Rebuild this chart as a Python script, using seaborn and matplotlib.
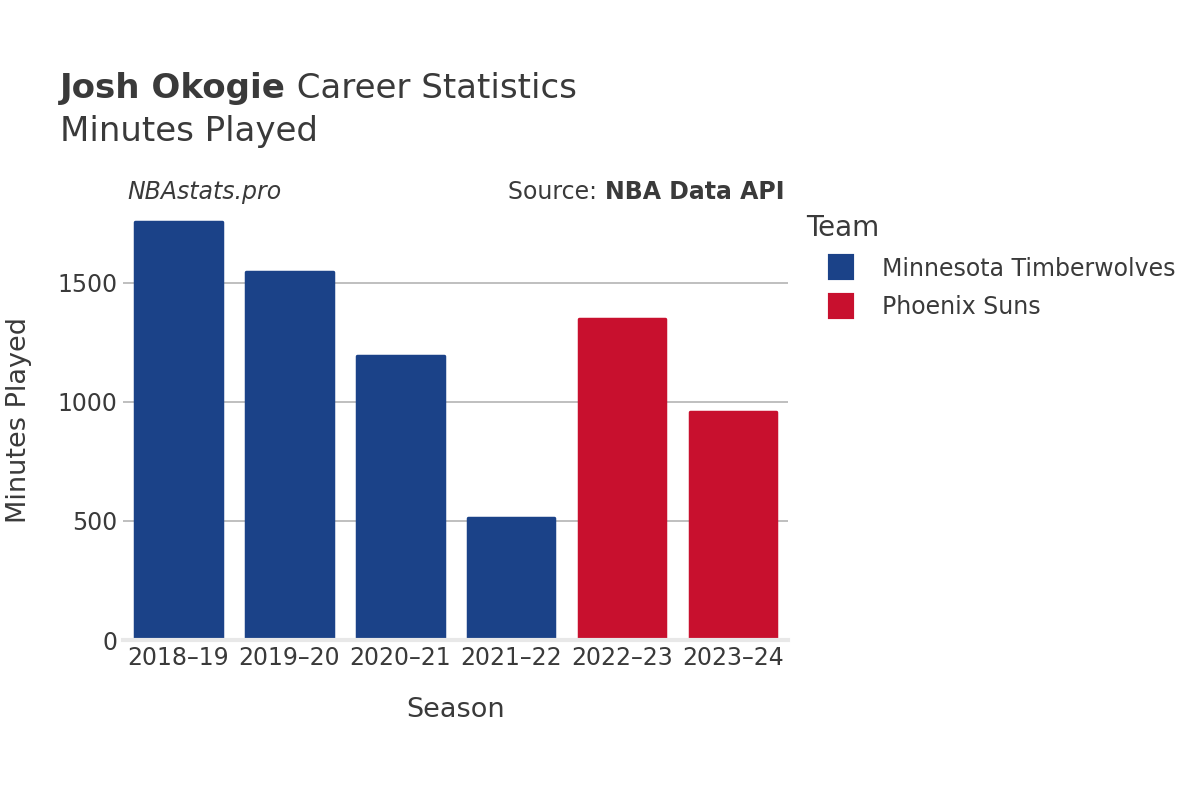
import pandas as pd
import seaborn as sns
import matplotlib.pyplot as plt
from matplotlib.lines import Line2D
from matplotlib.transforms import offset_copy

seasons = ['2018–19', '2019–20', '2020–21', '2021–22', '2022–23', '2023–24']
minutes = [1753, 1543, 1193, 510, 1346, 958]
teams = ['Minnesota Timberwolves', 'Minnesota Timberwolves', 'Minnesota Timberwolves',
         'Minnesota Timberwolves', 'Phoenix Suns', 'Phoenix Suns']
team_colors = {'Minnesota Timberwolves': '#1b4288', 'Phoenix Suns': '#c8102e'}

df = pd.DataFrame({'Season': seasons, 'Minutes': minutes, 'Team': teams})

sns.set_style('white')
plt.rcParams['font.family'] = ['DejaVu Sans']
TXT = '#3a3a3a'

fig = plt.figure(figsize=(12, 8), dpi=100)
ax = fig.add_axes([0.1025, 0.2, 0.5545, 0.551])

sns.barplot(data=df, x='Season', y='Minutes', hue='Team', dodge=False,
            palette=team_colors, saturation=1, width=0.78, ax=ax, legend=False)
for p in ax.patches:
    p.set_edgecolor(p.get_facecolor())
    p.set_linewidth(2.5)
    p.set_joinstyle('round')

ax.set_xlim(-0.5, 5.5)
ax.set_ylim(0, 1850)
ax.set_yticks([0, 500, 1000, 1500])
ax.yaxis.grid(True, color='#b4b4b4', linewidth=1.2)
ax.set_axisbelow(True)
for s in ['top', 'right', 'left']:
    ax.spines[s].set_visible(False)
ax.spines['bottom'].set_color('#e8e8e8')
ax.spines['bottom'].set_linewidth(3)
ax.tick_params(axis='both', labelsize=17, colors=TXT, length=0, pad=4)
ax.tick_params(axis='y', pad=4)
ax.set_xlabel('Season', fontsize=19.5, color=TXT, labelpad=20)
ax.set_ylabel('Minutes Played', fontsize=19.5, color=TXT, va='center')
ax.yaxis.set_label_coords(-0.156, 0.5)

renderer = fig.canvas.get_renderer()

# title line with bold player name
t1 = fig.text(0.05, 0.889, 'Josh Okogie', fontsize=24.5, fontweight='bold', color=TXT, va='center')
w = t1.get_window_extent(renderer).width
fig.text(0.05, 0.889, ' Career Statistics', fontsize=24.5, color=TXT, va='center',
         transform=offset_copy(fig.transFigure, fig=fig, x=w, y=0, units='dots'))
fig.text(0.05, 0.835, 'Minutes Played', fontsize=24.5, color=TXT, va='center')

fig.text(0.1065, 0.76, 'NBAstats.pro', fontsize=17, style='italic', color=TXT, va='center')
t2 = fig.text(0.6535, 0.76, 'NBA Data API', fontsize=17, fontweight='bold', color=TXT,
              va='center', ha='right')
w2 = t2.get_window_extent(renderer).width
fig.text(0.6535, 0.76, 'Source: ', fontsize=17, color=TXT, va='center', ha='right',
         transform=offset_copy(fig.transFigure, fig=fig, x=-w2, y=0, units='dots'))

handles = [Line2D([0], [0], marker='s', linestyle='', markersize=16,
                  markerfacecolor=c, markeredgecolor=c, markeredgewidth=3,
                  solid_joinstyle='round') for c in team_colors.values()]
leg = fig.legend(handles, list(team_colors.keys()), title='Team', loc='upper left',
                 bbox_to_anchor=(0.6717, 0.7325), frameon=False, fontsize=17,
                 title_fontsize=20, handlelength=3.0, handletextpad=0.2,
                 labelspacing=0.62, borderaxespad=0, borderpad=0)
leg._legend_box.align = 'left'
for t in leg.get_texts():
    t.set_color(TXT)
leg.get_title().set_color(TXT)

fig.savefig('out.png', dpi=100)
